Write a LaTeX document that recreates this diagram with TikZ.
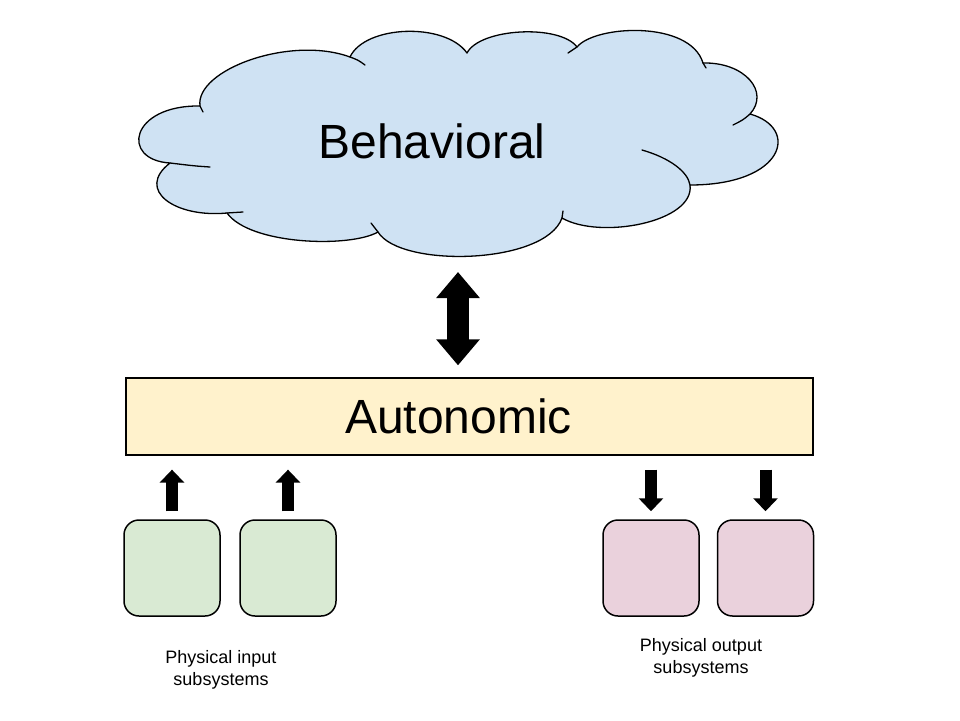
\documentclass[tikz,border=0pt]{standalone}
\usepackage{fontspec}
\setmainfont{Liberation Sans}
\usetikzlibrary{arrows.meta, positioning}
\definecolor{cloudblue}{HTML}{CFE2F3}
\definecolor{autoyellow}{HTML}{FFF2CC}
\definecolor{inputgreen}{HTML}{D9EAD3}
\definecolor{outputpink}{HTML}{EAD1DC}
% outline of the cloud, puff by puff (clockwise from the left)
\newcommand{\cloudpath}{(170,163) .. controls (120,160) and (130,105) .. (200,106)
  .. controls (195,70) and (290,35) .. (350,57)
  .. controls (365,25) and (445,22) .. (467,53)
  .. controls (480,28) and (560,24) .. (577,47)
  .. controls (595,25) and (690,20) .. (703,63)
  .. controls (745,62) and (770,92) .. (750,114)
  .. controls (800,128) and (785,185) .. (690,185)
  .. controls (695,222) and (600,240) .. (562,218)
  .. controls (545,265) and (400,268) .. (378,232)
  .. controls (350,248) and (250,245) .. (227,213)
  .. controls (175,218) and (135,190) .. (170,163) -- cycle}
\tikzset{
  bigfont/.style={font=\fontsize{48}{58}\selectfont},
  outline/.style={draw=black, line width=1.3pt},
  layer/.style={rectangle, minimum width=687pt, minimum height=77pt,
    outline, fill=autoyellow},
  subsys/.style={rectangle, rounded corners=15pt, minimum width=96pt,
    minimum height=96pt, draw=black, line width=1.5pt},
  caption/.style={font=\fontsize{18}{22}\selectfont, align=center},
  bigarrow/.style={line width=22pt,
    {Triangle[length=26pt,width=42pt]}-{Triangle[length=26pt,width=42pt]}},
  smallarrow/.style={line width=12pt, -{Triangle[length=13pt,width=24pt]}}
}
\begin{document}
\begin{tikzpicture}[x=1pt, y=-1pt]
\useasboundingbox (0,0) rectangle (960,720);
% cloud
\fill[cloudblue] \cloudpath;
\draw[outline, line join=round] \cloudpath;
\draw[outline, line cap=round]
  (210,167) .. controls (195,166) .. (170,163)
  (200,106) .. controls (201,109) .. (203,112)
  (350,57)  .. controls (358,60)  .. (365,65)
  (568,53)  .. controls (572,50)  .. (577,47)
  (703,63)  .. controls (705,65)  .. (706,68)
  (750,114) .. controls (743,120) .. (733,125)
  (642,150) .. controls (670,158) and (688,172) .. (690,185)
  (562,218) .. controls (562,215) .. (563,211)
  (378,232) .. controls (375,228) .. (371,223)
  (227,213) .. controls (235,213) .. (243,212);
\node (behav) [bigfont] at (432,141) {Behavioral};
\coordinate (behavbot) at (458,252);

\node (auto)  [layer, label={[bigfont, xshift=-11pt]center:Autonomic}]
  at (469.5,416.5) {};
\node (in1)   [subsys, fill=inputgreen]  at (172,568) {};
\node (in2)   [subsys, fill=inputgreen]  at (288,568) {};
\node (out1)  [subsys, fill=outputpink]  at (651,568) {};
\node (out2)  [subsys, fill=outputpink]  at (765.5,568) {};
\node (incap)  [caption] at (221,670) {Physical input\\subsystems};
\node (outcap) [caption] at (701,658) {Physical output\\subsystems};

\draw[bigarrow, shorten <=20pt, shorten >=12pt] (behavbot) -- (behavbot |- auto.north);
\draw[smallarrow, shorten <=8pt, shorten >=14pt] (in1) -- (in1 |- auto.south);
\draw[smallarrow, shorten <=8pt, shorten >=14pt] (in2) -- (in2 |- auto.south);
\draw[smallarrow, shorten <=14pt, shorten >=8pt] (out1 |- auto.south) -- (out1);
\draw[smallarrow, shorten <=14pt, shorten >=8pt] (out2 |- auto.south) -- (out2);
\end{tikzpicture}
\end{document}
